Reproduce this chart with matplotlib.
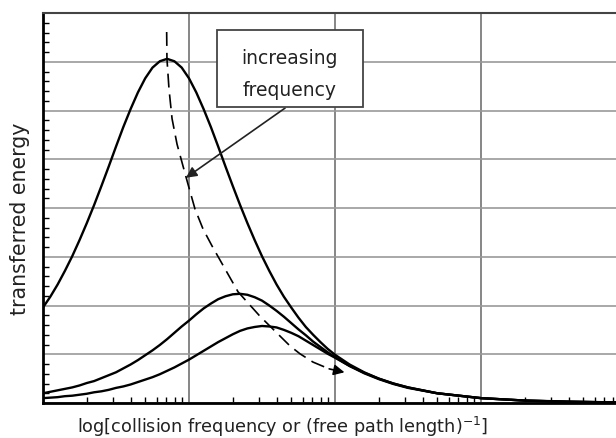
import matplotlib
matplotlib.use("Agg")
import matplotlib.pyplot as plt
from matplotlib.patches import Rectangle
import numpy as np

plt.rcParams['lines.scale_dashes'] = False

# log10 of collision frequency (shared x grid)
log_freq = [0.00, 0.05, 0.10, 0.15, 0.20, 0.25, 0.30, 0.35, 0.40, 0.45,
            0.50, 0.55, 0.60, 0.65, 0.70, 0.75, 0.80, 0.85, 0.90, 0.95,
            1.00, 1.05, 1.10, 1.15, 1.20, 1.25, 1.30, 1.35, 1.40, 1.45,
            1.50, 1.55, 1.60, 1.65, 1.70, 1.75, 1.80, 1.85, 1.90, 1.95,
            2.00, 2.10, 2.20, 2.30, 2.40, 2.50, 2.70, 3.00, 3.30, 3.60, 3.95]

# transferred energy, lowest wave frequency (tall curve)
energy_low = [1.96, 2.18, 2.43, 2.71, 3.01, 3.34, 3.69, 4.06, 4.45, 4.85,
              5.26, 5.66, 6.03, 6.37, 6.66, 6.88, 7.01, 7.06, 7.01, 6.88,
              6.66, 6.37, 6.03, 5.66, 5.26, 4.85, 4.45, 4.06, 3.69, 3.34,
              3.01, 2.71, 2.43, 2.18, 1.96, 1.75, 1.56, 1.40, 1.25, 1.11,
              0.99, 0.79, 0.63, 0.50, 0.40, 0.32, 0.20, 0.10, 0.05, 0.025, 0.011]

# middle frequency
energy_mid = [0.20, 0.23, 0.26, 0.29, 0.32, 0.36, 0.41, 0.45, 0.51, 0.57,
              0.63, 0.71, 0.79, 0.88, 0.98, 1.08, 1.19, 1.31, 1.44, 1.57,
              1.69, 1.82, 1.94, 2.04, 2.13, 2.19, 2.23, 2.24, 2.22, 2.17,
              2.10, 2.00, 1.89, 1.77, 1.64, 1.51, 1.39, 1.26, 1.15, 1.04,
              0.94, 0.76, 0.61, 0.49, 0.39, 0.31, 0.20, 0.10, 0.05, 0.025, 0.011]

# highest frequency
energy_high = [0.10, 0.11, 0.12, 0.14, 0.15, 0.17, 0.19, 0.22, 0.24, 0.27,
               0.31, 0.34, 0.38, 0.43, 0.48, 0.53, 0.59, 0.66, 0.73, 0.81,
               0.89, 0.98, 1.07, 1.16, 1.25, 1.33, 1.41, 1.48, 1.53, 1.56,
               1.58, 1.57, 1.55, 1.50, 1.44, 1.37, 1.28, 1.19, 1.10, 1.01,
               0.93, 0.76, 0.62, 0.50, 0.40, 0.32, 0.20, 0.10, 0.05, 0.03, 0.01]

# dashed "increasing frequency" path
path_logf = [0.847, 0.849, 0.863, 0.884, 0.918, 0.959, 0.993, 1.041, 1.096,
             1.158, 1.247, 1.336, 1.486, 1.692, 1.760, 1.849, 1.960]
path_energy = [7.61, 7.06, 6.44, 5.83, 5.31, 4.86, 4.49, 3.98, 3.57,
               3.22, 2.75, 2.28, 1.78, 1.17, 1.01, 0.84, 0.70]
path_tip = (2.065, 0.63)

# arrow from the label box
label_arrow_start = (1.658, 6.05)
label_arrow_end = (0.979, 4.62)

freq = 10 ** np.array(log_freq)
path_freq = 10 ** np.array(path_logf)

fig = plt.figure(figsize=(6.16, 4.39), dpi=100)
ax = fig.add_axes([0.0698, 0.0797, 0.9367, 0.8884])

ax.set_xscale('log')
ax.set_xlim(1, 10 ** 3.952)
ax.set_ylim(0, 8)

ax.plot(freq, energy_low, color='black', lw=1.7, zorder=3)
ax.plot(freq, energy_mid, color='black', lw=1.7, zorder=3)
ax.plot(freq, energy_high, color='black', lw=1.7, zorder=3)

ax.plot(path_freq, path_energy, color='black', lw=1.2, dashes=(10, 5), zorder=3)
ax.annotate('', xy=(10 ** path_tip[0], path_tip[1]),
            xytext=(path_freq[-1], path_energy[-1]),
            arrowprops=dict(arrowstyle='-|>', color='black', lw=1.2,
                            mutation_scale=16, shrinkA=0, shrinkB=0), zorder=4)

ax.annotate('', xy=(10 ** label_arrow_end[0], label_arrow_end[1]),
            xytext=(10 ** label_arrow_start[0], label_arrow_start[1]),
            arrowprops=dict(arrowstyle='-|>', color='#222222', lw=1.2,
                            mutation_scale=16, shrinkA=0, shrinkB=0), zorder=4)

# label box
ax.add_patch(Rectangle((0.3016, 0.759), 0.253, 0.197, transform=ax.transAxes,
                       facecolor='white', edgecolor='#444444', lw=1.3, zorder=5))
ax.text(0.428, 0.887, 'increasing', transform=ax.transAxes, ha='center',
        va='center', fontsize=13.5, color='#222222', zorder=6)
ax.text(0.428, 0.805, 'frequency', transform=ax.transAxes, ha='center',
        va='center', fontsize=13.5, color='#222222', zorder=6)

# grid
ax.set_yticks(range(0, 9))
ax.yaxis.set_minor_locator(matplotlib.ticker.MultipleLocator(0.2))
ax.xaxis.set_major_locator(matplotlib.ticker.LogLocator(base=10))
ax.xaxis.set_minor_locator(matplotlib.ticker.LogLocator(base=10, subs=np.arange(2, 10)))
ax.grid(True, which='major', axis='y', color='#999999', lw=1.2)
ax.grid(True, which='major', axis='x', color='#666666', lw=1.1)
ax.tick_params(which='both', direction='in', labelbottom=False, labelleft=False,
               top=False, right=False, color='black')
ax.tick_params(which='major', length=0)
ax.tick_params(which='minor', length=4.5, width=1)

ax.spines['left'].set_linewidth(2)
ax.spines['bottom'].set_linewidth(2)
ax.spines['top'].set_linewidth(1.5)
ax.spines['top'].set_color('#444444')
ax.spines['right'].set_visible(False)

ax.set_xlabel(r'log[collision frequency or (free path length)$^{\mathsf{-1}}$]',
              fontsize=12.7, color='#222222')
ax.xaxis.set_label_coords(0.416, -0.028)
ax.set_ylabel('transferred energy', fontsize=14.8, color='#222222')
ax.yaxis.set_label_coords(-0.022, 0.474)

fig.savefig('out.png', dpi=100)
